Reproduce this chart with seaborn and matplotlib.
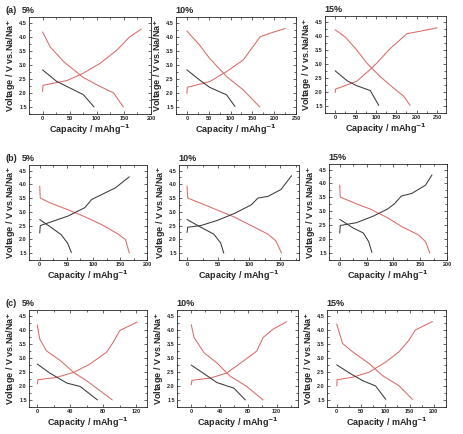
import matplotlib.pyplot as plt
import seaborn as sns
import pandas as pd
from matplotlib.ticker import AutoMinorLocator, MultipleLocator

# ---- data: (capacity mAh/g, voltage V) ----
# row (a)
a5_red_dis = [(0, 4.17), (14, 3.64), (39, 3.11), (75, 2.55), (106, 2.23), (131, 2.0), (149, 1.5)]
a5_red_chg = [(0, 2.05), (1, 2.27), (45, 2.44), (75, 2.7), (106, 3.05), (137, 3.52), (160, 3.98), (182, 4.27)]
a5_blk_dis = [(0, 2.82), (26, 2.41), (51, 2.17), (75, 1.94), (95, 1.5)]

a10_red_dis = [(0, 4.2), (29, 3.7), (52, 3.23), (91, 2.58), (129, 2.11), (167, 1.5)]
a10_red_chg = [(0, 1.98), (1, 2.2), (52, 2.4), (91, 2.76), (129, 3.17), (168, 4.0), (200, 4.17), (225, 4.29)]
a10_blk_dis = [(0, 2.82), (29, 2.46), (52, 2.2), (91, 1.93), (110, 1.52)]

a15_red_dis = [(0, 4.21), (25, 3.95), (53, 3.49), (78, 3.02), (110, 2.55), (143, 2.14), (168, 1.85), (184, 1.52)]
a15_red_chg = [(0, 1.98), (1, 2.1), (53, 2.38), (94, 2.9), (135, 3.54), (176, 4.07), (209, 4.16), (250, 4.28)]
a15_blk_dis = [(0, 2.75), (29, 2.4), (53, 2.22), (86, 2.05), (107, 1.52)]

# row (b)
b5_red_dis = [(0, 3.93), (1, 3.5), (20, 3.32), (52, 3.08), (84, 2.82), (116, 2.53), (148, 2.17), (160, 1.99), (167, 1.5)]
b5_blk_chg = [(0, 2.23), (1, 2.5), (52, 2.84), (84, 3.15), (97, 3.45), (116, 3.63), (141, 3.87), (167, 4.27)]
b5_blk_dis = [(0, 2.72), (20, 2.45), (40, 2.17), (52, 1.86), (59, 1.52)]

b10_red_dis = [(0, 3.94), (1, 3.5), (22, 3.31), (49, 3.06), (76, 2.81), (103, 2.5), (130, 2.19), (143, 1.94), (152, 1.5)]
b10_blk_chg = [(0, 2.25), (1, 2.44), (22, 2.5), (49, 2.69), (76, 2.94), (103, 3.25), (114, 3.5), (130, 3.56), (151, 3.81), (168, 4.31)]
b10_blk_dis = [(0, 2.72), (22, 2.44), (43, 2.19), (54, 1.87), (59, 1.5)]

b15_red_dis = [(0, 3.94), (1, 3.51), (31, 3.27), (57, 3.08), (89, 2.77), (115, 2.46), (147, 2.15), (160, 1.91), (168, 1.5)]
b15_blk_chg = [(0, 2.22), (1, 2.49), (31, 2.59), (63, 2.83), (89, 3.08), (102, 3.27), (115, 3.55), (134, 3.64), (160, 3.94), (172, 4.31)]
b15_blk_dis = [(0, 2.71), (25, 2.4), (44, 2.22), (54, 1.91), (60, 1.52)]

# row (c)
c5_red_dis = [(0, 4.17), (3, 3.67), (11, 3.25), (28, 2.9), (44, 2.48), (60, 2.18), (76, 1.83), (91, 1.5)]
c5_red_chg = [(0, 2.07), (1, 2.22), (23, 2.3), (44, 2.48), (64, 2.78), (84, 3.2), (92, 3.55), (100, 3.97), (121, 4.27)]
c5_blk_dis = [(0, 2.78), (15, 2.46), (36, 2.1), (52, 1.98), (73, 1.5)]

c10_red_dis = [(0, 4.18), (4, 3.72), (18, 3.18), (36, 2.82), (55, 2.34), (78, 1.98), (101, 1.5)]
c10_red_chg = [(0, 2.04), (1, 2.2), (27, 2.28), (50, 2.46), (73, 2.88), (92, 3.24), (101, 3.72), (115, 4.02), (134, 4.28)]
c10_blk_dis = [(0, 2.74), (20, 2.4), (36, 2.12), (60, 1.92), (76, 1.5)]

c15_red_dis = [(0, 4.2), (12, 3.51), (33, 3.21), (67, 2.79), (94, 2.37), (128, 2.01), (156, 1.52)]
c15_red_chg = [(0, 2.0), (1, 2.22), (33, 2.31), (67, 2.49), (101, 2.85), (128, 3.21), (149, 3.63), (162, 3.99), (197, 4.29)]
c15_blk_dis = [(0, 2.75), (26, 2.46), (53, 2.19), (80, 2.0), (101, 1.52)]

row_tags = ['(a)', '(b)', '(c)']
pct_labels = ['5%', '10%', '15%']

panels = [
    [[a5_red_dis, a5_red_chg], [a5_blk_dis]],
    [[a10_red_dis, a10_red_chg], [a10_blk_dis]],
    [[a15_red_dis, a15_red_chg], [a15_blk_dis]],
    [[b5_red_dis], [b5_blk_chg, b5_blk_dis]],
    [[b10_red_dis], [b10_blk_chg, b10_blk_dis]],
    [[b15_red_dis], [b15_blk_chg, b15_blk_dis]],
    [[c5_red_dis, c5_red_chg], [c5_blk_dis]],
    [[c10_red_dis, c10_red_chg], [c10_blk_dis]],
    [[c15_red_dis, c15_red_chg], [c15_blk_dis]],
]

# x axis limits and tick step per panel
x_lims = [(-25, 200), (-25, 250), (-25, 272),
          (-20, 200), (-13, 180), (-20, 200),
          (-10, 133), (-20, 150), (-20, 225)]
x_steps = [50, 50, 50, 50, 50, 50, 40, 40, 50]

# axes boxes in pixels (left, top, right, bottom)
boxes = [(29, 17, 151, 114), (176, 17, 296, 114), (325, 16, 446, 113),
         (29, 165, 147, 260), (179, 165, 299, 260), (329, 164, 447, 260),
         (29, 310, 147, 407), (177, 310, 298, 407), (327, 310, 446, 407)]

W, H = 463, 434
RED = '#dc6a66'
BLK = '#3a3a3a'

sns.set_style('ticks')
plt.rcParams['font.family'] = ['Liberation Sans', 'DejaVu Sans']
plt.rcParams['font.weight'] = 'bold'

fig = plt.figure(figsize=(W / 100, H / 100), dpi=100)

for i, (curves, box) in enumerate(zip(panels, boxes)):
    l, t, r, b = box
    ax = fig.add_axes([l / W, 1 - b / H, (r - l) / W, (b - t) / H])
    for color, group in zip([RED, BLK], curves):
        for pts in group:
            df = pd.DataFrame(pts, columns=['cap', 'v'])
            sns.lineplot(data=df, x='cap', y='v', sort=False, color=color,
                         lw=0.75, ax=ax, estimator=None)
    ax.set_xlim(*x_lims[i])
    ax.set_ylim(1.25, 4.7)
    ax.xaxis.set_major_locator(MultipleLocator(x_steps[i]))
    ax.yaxis.set_major_locator(MultipleLocator(0.5))
    ax.yaxis.set_major_formatter(plt.FormatStrFormatter('%.1f'))
    ax.xaxis.set_minor_locator(AutoMinorLocator(2))
    ax.yaxis.set_minor_locator(AutoMinorLocator(2))
    ax.tick_params(which='both', direction='in', top=True, right=True,
                   labelsize=4, width=0.5, pad=1.5)
    ax.tick_params(which='major', length=2)
    ax.tick_params(which='minor', length=1.2)
    for s in ax.spines.values():
        s.set_linewidth(0.6)
    ax.set_xlabel('Capacity / mAhg$^{-1}$', fontsize=6.5, fontweight='bold', labelpad=1)
    ax.set_ylabel('Voltage / V vs.Na/Na$^{+}$', fontsize=6.5, fontweight='bold', labelpad=1)
    # percentage label just above the top-left corner
    px = 22 if i % 3 == 0 else l - 1
    fig.text(px / W, 1 - (t - 2) / H, pct_labels[i % 3],
             fontsize=6.5, fontweight='bold', ha='left', va='bottom')
    if i % 3 == 0:
        fig.text(6 / W, 1 - (t - 2) / H, row_tags[i // 3],
                 fontsize=6.5, fontweight='bold', ha='left', va='bottom')

fig.savefig('out.png', dpi=100)
